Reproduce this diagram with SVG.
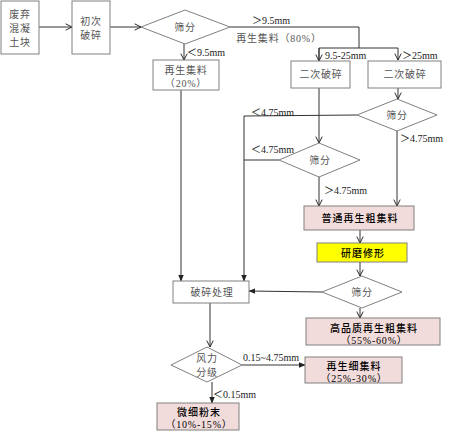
<svg xmlns="http://www.w3.org/2000/svg" width="454" height="438" viewBox="0 0 454 438">
<defs>
<marker id="open" viewBox="0 0 10 10" refX="9" refY="5" markerWidth="8" markerHeight="8" orient="auto" markerUnits="userSpaceOnUse"><path d="M1,1 L9,5 L1,9" fill="none" stroke="#222" stroke-width="1.2"/></marker>
<marker id="fill" viewBox="0 0 10 10" refX="9" refY="5" markerWidth="7" markerHeight="7" orient="auto" markerUnits="userSpaceOnUse"><path d="M0,1 L10,5 L0,9 z" fill="#222"/></marker>
<style>
.box{fill:#fff;stroke:#808080;stroke-width:1}
.pink{fill:#f2dcdb;stroke:#808080;stroke-width:1}
.yel{fill:#ffff00;stroke:#808080;stroke-width:1}
.dia{fill:#fff;stroke:#808080;stroke-width:1}
.t{font-family:"Liberation Serif","Noto Sans CJK SC",serif;font-size:10px;fill:#555;text-anchor:middle;dominant-baseline:central;letter-spacing:0.8px}
.b{font-family:"Liberation Serif","Noto Sans CJK SC",serif;font-size:10px;fill:#000;text-anchor:middle;dominant-baseline:central;font-weight:500;letter-spacing:1px}
.l{font-family:"Liberation Serif","Noto Sans CJK SC",serif;font-size:10px;fill:#222;dominant-baseline:central}
.c{fill:none;stroke:#333;stroke-width:1}
.o{marker-end:url(#open)}
.f{marker-end:url(#fill)}
</style>
</defs>
<g id="connectors">
<line class="c o" x1="39" y1="27" x2="72" y2="27"/>
<line class="c o" x1="110" y1="27" x2="141" y2="27"/>
<line class="c o" x1="184" y1="44" x2="184" y2="60"/>
<polyline class="c" points="230,27 359,27 359,48"/>
<polyline class="c o" points="319,60 319,48 398,48 398,60"/>
<line class="c o" x1="319" y1="48" x2="319" y2="61"/>
<line class="c o" x1="398" y1="88" x2="398" y2="99"/>
<line class="c o" x1="319" y1="88" x2="319" y2="143"/>
<polyline class="c f" points="357,115 244,116 244,281"/>
<line class="c" x1="279" y1="160" x2="244" y2="160"/>
<line class="c o" x1="319" y1="177" x2="319" y2="206"/>
<line class="c o" x1="397" y1="131" x2="397" y2="206"/>
<line class="c o" x1="360" y1="230" x2="360" y2="243"/>
<line class="c o" x1="360" y1="262" x2="360" y2="276"/>
<line class="c f" x1="322" y1="292" x2="249" y2="291"/>
<line class="c o" x1="360" y1="308" x2="360" y2="318"/>
<line class="c f" x1="181" y1="90" x2="181" y2="281"/>
<line class="c o" x1="210" y1="303" x2="210" y2="347"/>
<line class="c f" x1="242" y1="365" x2="305" y2="365"/>
<line class="c f" x1="212" y1="382" x2="212" y2="403"/>
</g>
<g id="n1"><rect class="box" x="1" y="1" width="38" height="53"/><text class="t" x="20" y="14">废弃</text><text class="t" x="20" y="28">混凝</text><text class="t" x="20" y="42">土块</text></g>
<g id="n2"><rect class="box" x="72" y="1" width="38" height="53"/><text class="t" x="91" y="21">初次</text><text class="t" x="91" y="35">破碎</text></g>
<g id="n3"><polygon class="dia" points="141,27 185,10 230,27 185,44"/><text class="t" x="185" y="27">筛分</text></g>
<g id="n4"><rect class="box" x="153" y="60" width="66" height="30"/><text class="t" x="186" y="70">再生集料</text><text class="t" x="186" y="83">（20%）</text></g>
<g id="n5"><rect class="box" x="291" y="61" width="59" height="27"/><text class="t" x="321" y="74">二次破碎</text></g>
<g id="n6"><rect class="box" x="368" y="61" width="73" height="27"/><text class="t" x="405" y="74">二次破碎</text></g>
<g id="n7"><polygon class="dia" points="357,115 397,99 437,115 397,131"/><text class="t" x="397" y="115">筛分</text></g>
<g id="n8"><polygon class="dia" points="279,160 319,143 360,160 319,177"/><text class="t" x="320" y="160">筛分</text></g>
<g id="n9"><rect class="pink" x="304" y="206" width="110" height="24"/><text class="b" x="360" y="218">普通再生粗集料</text></g>
<g id="n10"><rect class="yel" x="317" y="243" width="90" height="19"/><text class="b" x="363" y="253">研磨修形</text></g>
<g id="n11"><polygon class="dia" points="322,292 362,276 402,292 362,308"/><text class="t" x="362" y="292">筛分</text></g>
<g id="n12"><rect class="box" x="173" y="281" width="76" height="22"/><text class="t" x="212" y="292">破碎处理</text></g>
<g id="n13"><rect class="pink" x="306" y="318" width="134" height="27"/><text class="b" x="374" y="328">高品质再生粗集料</text><text class="t" x="374" y="340" style="fill:#000">（55%-60%）</text></g>
<g id="n14"><polygon class="dia" points="171,365 207,347 242,365 207,382"/><text class="t" x="207" y="358">风力</text><text class="t" x="207" y="372">分级</text></g>
<g id="n15"><rect class="pink" x="305" y="357" width="97" height="26"/><text class="b" x="354" y="366">再生细集料</text><text class="t" x="354" y="378" style="fill:#000">（25%-30%）</text></g>
<g id="n16"><rect class="pink" x="157" y="403" width="82" height="27"/><text class="b" x="199" y="412">微细粉末</text><text class="t" x="199" y="424" style="fill:#000">（10%-15%）</text></g>
<g id="labels">
<text class="l" x="187" y="52">＜9.5mm</text>
<text class="l" x="252" y="20">＞9.5mm</text>
<text class="t" x="279" y="38">再生集料（80%）</text>
<text class="l" x="325" y="55">9.5-25mm</text>
<text class="l" x="402" y="55">＞25mm</text>
<text class="l" x="251" y="112">＜4.75mm</text>
<text class="l" x="400" y="138">＞4.75mm</text>
<text class="l" x="251" y="149">＜4.75mm</text>
<text class="l" x="324" y="190">＞4.75mm</text>
<text class="l" x="243" y="357">0.15~4.75mm</text>
<text class="l" x="213" y="394">＜0.15mm</text>
</g>
</svg>
